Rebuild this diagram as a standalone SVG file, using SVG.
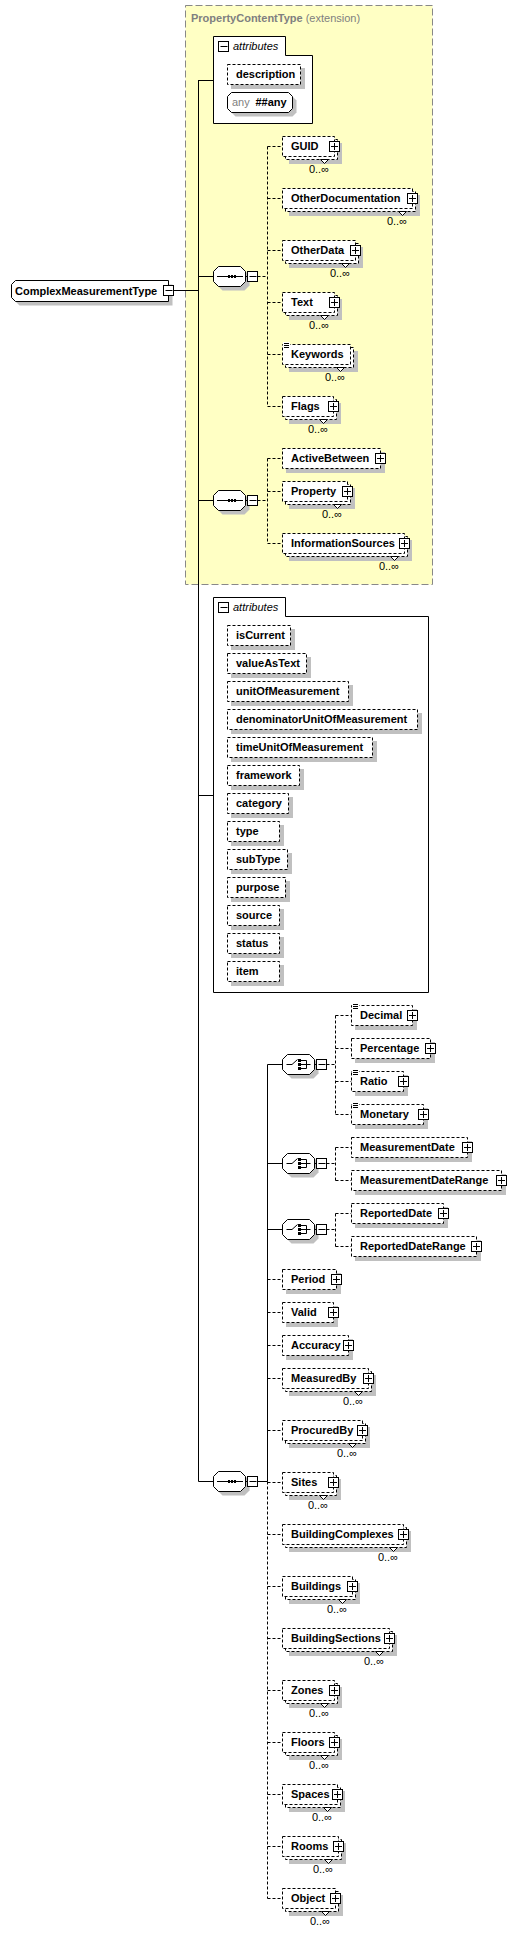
<svg xmlns="http://www.w3.org/2000/svg" width="529" height="1933" viewBox="0 0 529 1933">
<style>
.lbl{font-family:"Liberation Sans",Arial,sans-serif;font-size:11px;font-weight:bold;fill:#000}
.occ{font-family:"Liberation Sans",Arial,sans-serif;font-size:11px;fill:#000}
.att{font-family:"Liberation Sans",Arial,sans-serif;font-size:11px;font-style:italic;fill:#000}
.ttl{font-family:"Liberation Sans",Arial,sans-serif;font-size:11px;fill:#808080}
.sh{fill:#c0c0c0}
.db{fill:#fff;stroke:#000;stroke-dasharray:3,2}
.sb{fill:#fff;stroke:#000}
.ic{fill:#fff;stroke:#000}
.ln{fill:none;stroke:#000}
.dl{fill:none;stroke:#000;stroke-dasharray:3,2}
.nt{fill:#fff;stroke:#000}
.eqb{fill:#fff}
</style>
<defs>
<polygon id="oct" points="5.5,-9.5 27.5,-9.5 32.5,-4.5 32.5,5.5 27.5,10.5 5.5,10.5 0.5,5.5 0.5,-4.5"/>
<g id="eq"><rect class="eqb" x="1" y="-12" width="7" height="7"/><path class="ln" d="M2 -10.5H7M2 -8.5H7M2 -6.5H7"/></g>
<g id="seqglyph"><use href="#oct" class="sh" transform="translate(4,4)"/><use href="#oct" class="sb"/><path class="ln" d="M4 .5H30M32.5 .5H34.5"/><rect x="15" y="-1" width="2" height="3"/><rect x="18" y="-1" width="2" height="3"/><rect x="21" y="-1" width="2" height="3"/><rect class="ic" x="34.5" y="-4.5" width="10" height="10"/><path class="ln" d="M36.5 .5H43.5"/></g>
<g id="choiceglyph"><use href="#oct" class="sh" transform="translate(4,4)"/><use href="#oct" class="sb"/><path class="ln" d="M4.5 .5H10L15.5 -4.5M19 -3.5H24.5V4.5H19M19 .5H28.5M32.5 .5H34.5"/><rect x="16" y="-5" width="3" height="3"/><rect x="16" y="-1" width="3" height="3"/><rect x="16" y="3" width="3" height="3"/><rect class="ic" x="34.5" y="-4.5" width="10" height="10"/><path class="ln" d="M36.5 .5H43.5"/></g>
</defs>

<rect id="extension" x="185.5" y="5.5" width="247" height="579" fill="#ffffc4" stroke="#888" stroke-dasharray="7,3"/>
<text class="ttl" x="191" y="22"><tspan font-weight="bold">PropertyContentType</tspan> (extension)</text>

<g id="connectors">
<path class="ln" d="M198.5 80V1481.5M198.5 80.5H213.5M173.5 290.5H198.5M198.5 276.5H213.5M198.5 500.5H213.5M198.5 795.5H213.5M198.5 1481.5H213.5"/>
<path class="dl" d="M257.5 276.5H267.5M267.5 146.5V406.5M267.5 146.5H282.5M267.5 198.5H282.5M267.5 250.5H282.5M267.5 302.5H282.5M267.5 354.5H282.5M267.5 406.5H282.5"/>
<path class="dl" d="M257.5 500.5H267.5M267.5 458.5V543.5M267.5 458.5H282.5M267.5 491.5H282.5M267.5 543.5H282.5"/>
<path class="ln" d="M257.5 1481.5H267.5M267.5 1064.5V1481.5M267.5 1064.5H282.5M267.5 1163.5H282.5M267.5 1229.5H282.5"/>
<path class="dl" d="M267.5 1481.5V1898.5M267.5 1279.5H282.5M267.5 1312.5H282.5M267.5 1345.5H282.5M267.5 1378.5H282.5M267.5 1430.5H282.5M267.5 1482.5H282.5M267.5 1534.5H282.5M267.5 1586.5H282.5M267.5 1638.5H282.5M267.5 1690.5H282.5M267.5 1742.5H282.5M267.5 1794.5H282.5M267.5 1846.5H282.5M267.5 1898.5H282.5"/>
<path class="dl" d="M326.5 1064.5H335.5M335.5 1015.5V1114.5M335.5 1015.5H351.5M335.5 1048.5H351.5M335.5 1081.5H351.5M335.5 1114.5H351.5"/>
<path class="dl" d="M326.5 1163.5H335.5M335.5 1147.5V1180.5M335.5 1147.5H351.5M335.5 1180.5H351.5"/>
<path class="dl" d="M326.5 1229.5H335.5M335.5 1213.5V1246.5M335.5 1213.5H351.5M335.5 1246.5H351.5"/>
</g>

<g id="ComplexMeasurementType">
<polygon class="sh" points="19.5,284.5 172.5,284.5 172.5,305.5 19.5,305.5 15.5,301.5 15.5,288.5"/>
<polygon class="sb" points="15.5,280.5 168.5,280.5 168.5,301.5 15.5,301.5 11.5,297.5 11.5,284.5"/>
<text class="lbl" x="15" y="295">ComplexMeasurementType</text>
<rect class="ic" x="163.5" y="285.5" width="10" height="10"/>
<path class="ln" d="M165.5 290.5H172.5"/>
</g>

<g id="attributes1">
<polygon class="sb" points="213.5,36.5 285.5,36.5 285.5,55.5 312.5,55.5 312.5,123.5 213.5,123.5"/>
<rect class="ic" x="218.5" y="41.5" width="10" height="10"/>
<path class="ln" d="M220.5 46.5H227.5"/>
<text class="att" x="233" y="50">attributes</text>
</g>
<g id="description" transform="translate(227,74)"><rect class="sh" x="4" y="-6" width="74" height="21"/><rect class="db" x=".5" y="-9.5" width="73" height="20"/><text class="lbl" x="9" y="4">description</text></g>
<g id="anyAttribute">
<polygon class="sh" points="235.5,96.5 292.5,96.5 296.5,100.5 296.5,112.5 292.5,116.5 235.5,116.5 231.5,112.5 231.5,100.5"/>
<polygon class="sb" points="231.5,92.5 288.5,92.5 292.5,96.5 292.5,108.5 288.5,112.5 231.5,112.5 227.5,108.5 227.5,96.5"/>
<text class="occ" x="232" y="106" fill="#808080" style="fill:#808080">any</text>
<text class="lbl" x="255.5" y="106">##any</text>
</g>

<g id="sequence1" transform="translate(213,276)"><use href="#seqglyph"/></g>
<g id="sequence2" transform="translate(213,500)"><use href="#seqglyph"/></g>
<g id="sequence3" transform="translate(213,1481)"><use href="#seqglyph"/></g>
<g id="choice1" transform="translate(282,1064)"><use href="#choiceglyph"/></g>
<g id="choice2" transform="translate(282,1163)"><use href="#choiceglyph"/></g>
<g id="choice3" transform="translate(282,1229)"><use href="#choiceglyph"/></g>

<g id="GUID" transform="translate(282,146)"><rect class="sh" x="7" y="-3" width="53" height="21"/><rect class="db" x="3.5" y="-6.5" width="52" height="20"/><rect class="db" x=".5" y="-9.5" width="52" height="20"/><polygon class="nt" points="38.5,13.5 42.5,17.5 46.5,13.5"/><text class="lbl" x="9" y="4">GUID</text><rect class="ic" x="47.5" y="-4.5" width="10" height="10"/><path class="ln" d="M49 .5H56M52.5 -3V4"/><text class="occ" x="47" y="27" text-anchor="end">0..∞</text></g>
<g id="OtherDocumentation" transform="translate(282,198)"><rect class="sh" x="7" y="-3" width="131" height="21"/><rect class="db" x="3.5" y="-6.5" width="130" height="20"/><rect class="db" x=".5" y="-9.5" width="130" height="20"/><polygon class="nt" points="116.5,13.5 120.5,17.5 124.5,13.5"/><text class="lbl" x="9" y="4">OtherDocumentation</text><rect class="ic" x="125.5" y="-4.5" width="10" height="10"/><path class="ln" d="M127 .5H134M130.5 -3V4"/><text class="occ" x="125" y="27" text-anchor="end">0..∞</text></g>
<g id="OtherData" transform="translate(282,250)"><rect class="sh" x="7" y="-3" width="74" height="21"/><rect class="db" x="3.5" y="-6.5" width="73" height="20"/><rect class="db" x=".5" y="-9.5" width="73" height="20"/><polygon class="nt" points="59.5,13.5 63.5,17.5 67.5,13.5"/><text class="lbl" x="9" y="4">OtherData</text><rect class="ic" x="68.5" y="-4.5" width="10" height="10"/><path class="ln" d="M70 .5H77M73.5 -3V4"/><text class="occ" x="68" y="27" text-anchor="end">0..∞</text></g>
<g id="Text" transform="translate(282,302)"><rect class="sh" x="7" y="-3" width="53" height="21"/><rect class="db" x="3.5" y="-6.5" width="52" height="20"/><rect class="db" x=".5" y="-9.5" width="52" height="20"/><polygon class="nt" points="38.5,13.5 42.5,17.5 46.5,13.5"/><text class="lbl" x="9" y="4">Text</text><rect class="ic" x="47.5" y="-4.5" width="10" height="10"/><path class="ln" d="M49 .5H56M52.5 -3V4"/><text class="occ" x="47" y="27" text-anchor="end">0..∞</text></g>
<g id="Keywords" transform="translate(282,354)"><rect class="sh" x="7" y="-3" width="69" height="21"/><rect class="db" x="3.5" y="-6.5" width="68" height="20"/><rect class="db" x=".5" y="-9.5" width="68" height="20"/><polygon class="nt" points="54.5,13.5 58.5,17.5 62.5,13.5"/><use href="#eq"/><text class="lbl" x="9" y="4">Keywords</text><text class="occ" x="63" y="27" text-anchor="end">0..∞</text></g>
<g id="Flags" transform="translate(282,406)"><rect class="sh" x="7" y="-3" width="52" height="21"/><rect class="db" x="3.5" y="-6.5" width="51" height="20"/><rect class="db" x=".5" y="-9.5" width="51" height="20"/><polygon class="nt" points="37.5,13.5 41.5,17.5 45.5,13.5"/><text class="lbl" x="9" y="4">Flags</text><rect class="ic" x="46.5" y="-4.5" width="10" height="10"/><path class="ln" d="M48 .5H55M51.5 -3V4"/><text class="occ" x="46" y="27" text-anchor="end">0..∞</text></g>
<g id="ActiveBetween" transform="translate(282,458)"><rect class="sh" x="4" y="-6" width="99" height="21"/><rect class="db" x=".5" y="-9.5" width="98" height="20"/><text class="lbl" x="9" y="4">ActiveBetween</text><rect class="ic" x="93.5" y="-4.5" width="10" height="10"/><path class="ln" d="M95 .5H102M98.5 -3V4"/></g>
<g id="Property" transform="translate(282,491)"><rect class="sh" x="7" y="-3" width="66" height="21"/><rect class="db" x="3.5" y="-6.5" width="65" height="20"/><rect class="db" x=".5" y="-9.5" width="65" height="20"/><polygon class="nt" points="51.5,13.5 55.5,17.5 59.5,13.5"/><text class="lbl" x="9" y="4">Property</text><rect class="ic" x="60.5" y="-4.5" width="10" height="10"/><path class="ln" d="M62 .5H69M65.5 -3V4"/><text class="occ" x="60" y="27" text-anchor="end">0..∞</text></g>
<g id="InformationSources" transform="translate(282,543)"><rect class="sh" x="7" y="-3" width="123" height="21"/><rect class="db" x="3.5" y="-6.5" width="122" height="20"/><rect class="db" x=".5" y="-9.5" width="122" height="20"/><polygon class="nt" points="108.5,13.5 112.5,17.5 116.5,13.5"/><text class="lbl" x="9" y="4">InformationSources</text><rect class="ic" x="117.5" y="-4.5" width="10" height="10"/><path class="ln" d="M119 .5H126M122.5 -3V4"/><text class="occ" x="117" y="27" text-anchor="end">0..∞</text></g>

<g id="attributes2">
<polygon class="sb" points="213.5,597.5 285.5,597.5 285.5,616.5 428.5,616.5 428.5,992.5 213.5,992.5"/>
<rect class="ic" x="218.5" y="602.5" width="10" height="10"/>
<path class="ln" d="M220.5 607.5H227.5"/>
<text class="att" x="233" y="611">attributes</text>
</g>
<g id="isCurrent" transform="translate(227,635)"><rect class="sh" x="4" y="-6" width="64" height="21"/><rect class="db" x=".5" y="-9.5" width="63" height="20"/><text class="lbl" x="9" y="4">isCurrent</text></g>
<g id="valueAsText" transform="translate(227,663)"><rect class="sh" x="4" y="-6" width="80" height="21"/><rect class="db" x=".5" y="-9.5" width="79" height="20"/><text class="lbl" x="9" y="4">valueAsText</text></g>
<g id="unitOfMeasurement" transform="translate(227,691)"><rect class="sh" x="4" y="-6" width="122" height="21"/><rect class="db" x=".5" y="-9.5" width="121" height="20"/><text class="lbl" x="9" y="4">unitOfMeasurement</text></g>
<g id="denominatorUnitOfMeasurement" transform="translate(227,719)"><rect class="sh" x="4" y="-6" width="191" height="21"/><rect class="db" x=".5" y="-9.5" width="190" height="20"/><text class="lbl" x="9" y="4">denominatorUnitOfMeasurement</text></g>
<g id="timeUnitOfMeasurement" transform="translate(227,747)"><rect class="sh" x="4" y="-6" width="146" height="21"/><rect class="db" x=".5" y="-9.5" width="145" height="20"/><text class="lbl" x="9" y="4">timeUnitOfMeasurement</text></g>
<g id="framework" transform="translate(227,775)"><rect class="sh" x="4" y="-6" width="73" height="21"/><rect class="db" x=".5" y="-9.5" width="72" height="20"/><text class="lbl" x="9" y="4">framework</text></g>
<g id="category" transform="translate(227,803)"><rect class="sh" x="4" y="-6" width="62" height="21"/><rect class="db" x=".5" y="-9.5" width="61" height="20"/><text class="lbl" x="9" y="4">category</text></g>
<g id="type" transform="translate(227,831)"><rect class="sh" x="4" y="-6" width="53" height="21"/><rect class="db" x=".5" y="-9.5" width="52" height="20"/><text class="lbl" x="9" y="4">type</text></g>
<g id="subType" transform="translate(227,859)"><rect class="sh" x="4" y="-6" width="61" height="21"/><rect class="db" x=".5" y="-9.5" width="60" height="20"/><text class="lbl" x="9" y="4">subType</text></g>
<g id="purpose" transform="translate(227,887)"><rect class="sh" x="4" y="-6" width="59" height="21"/><rect class="db" x=".5" y="-9.5" width="58" height="20"/><text class="lbl" x="9" y="4">purpose</text></g>
<g id="source" transform="translate(227,915)"><rect class="sh" x="4" y="-6" width="53" height="21"/><rect class="db" x=".5" y="-9.5" width="52" height="20"/><text class="lbl" x="9" y="4">source</text></g>
<g id="status" transform="translate(227,943)"><rect class="sh" x="4" y="-6" width="53" height="21"/><rect class="db" x=".5" y="-9.5" width="52" height="20"/><text class="lbl" x="9" y="4">status</text></g>
<g id="item" transform="translate(227,971)"><rect class="sh" x="4" y="-6" width="53" height="21"/><rect class="db" x=".5" y="-9.5" width="52" height="20"/><text class="lbl" x="9" y="4">item</text></g>

<g id="Decimal" transform="translate(351,1015)"><rect class="sh" x="4" y="-6" width="62" height="21"/><rect class="db" x=".5" y="-9.5" width="61" height="20"/><use href="#eq"/><text class="lbl" x="9" y="4">Decimal</text><rect class="ic" x="56.5" y="-4.5" width="10" height="10"/><path class="ln" d="M58 .5H65M61.5 -3V4"/></g>
<g id="Percentage" transform="translate(351,1048)"><rect class="sh" x="4" y="-6" width="80" height="21"/><rect class="db" x=".5" y="-9.5" width="79" height="20"/><text class="lbl" x="9" y="4">Percentage</text><rect class="ic" x="74.5" y="-4.5" width="10" height="10"/><path class="ln" d="M76 .5H83M79.5 -3V4"/></g>
<g id="Ratio" transform="translate(351,1081)"><rect class="sh" x="4" y="-6" width="53" height="21"/><rect class="db" x=".5" y="-9.5" width="52" height="20"/><use href="#eq"/><text class="lbl" x="9" y="4">Ratio</text><rect class="ic" x="47.5" y="-4.5" width="10" height="10"/><path class="ln" d="M49 .5H56M52.5 -3V4"/></g>
<g id="Monetary" transform="translate(351,1114)"><rect class="sh" x="4" y="-6" width="73" height="21"/><rect class="db" x=".5" y="-9.5" width="72" height="20"/><use href="#eq"/><text class="lbl" x="9" y="4">Monetary</text><rect class="ic" x="67.5" y="-4.5" width="10" height="10"/><path class="ln" d="M69 .5H76M72.5 -3V4"/></g>
<g id="MeasurementDate" transform="translate(351,1147)"><rect class="sh" x="4" y="-6" width="117" height="21"/><rect class="db" x=".5" y="-9.5" width="116" height="20"/><text class="lbl" x="9" y="4">MeasurementDate</text><rect class="ic" x="111.5" y="-4.5" width="10" height="10"/><path class="ln" d="M113 .5H120M116.5 -3V4"/></g>
<g id="MeasurementDateRange" transform="translate(351,1180)"><rect class="sh" x="4" y="-6" width="151" height="21"/><rect class="db" x=".5" y="-9.5" width="150" height="20"/><text class="lbl" x="9" y="4">MeasurementDateRange</text><rect class="ic" x="145.5" y="-4.5" width="10" height="10"/><path class="ln" d="M147 .5H154M150.5 -3V4"/></g>
<g id="ReportedDate" transform="translate(351,1213)"><rect class="sh" x="4" y="-6" width="93" height="21"/><rect class="db" x=".5" y="-9.5" width="92" height="20"/><text class="lbl" x="9" y="4">ReportedDate</text><rect class="ic" x="87.5" y="-4.5" width="10" height="10"/><path class="ln" d="M89 .5H96M92.5 -3V4"/></g>
<g id="ReportedDateRange" transform="translate(351,1246)"><rect class="sh" x="4" y="-6" width="126" height="21"/><rect class="db" x=".5" y="-9.5" width="125" height="20"/><text class="lbl" x="9" y="4">ReportedDateRange</text><rect class="ic" x="120.5" y="-4.5" width="10" height="10"/><path class="ln" d="M122 .5H129M125.5 -3V4"/></g>

<g id="Period" transform="translate(282,1279)"><rect class="sh" x="4" y="-6" width="55" height="21"/><rect class="db" x=".5" y="-9.5" width="54" height="20"/><text class="lbl" x="9" y="4">Period</text><rect class="ic" x="49.5" y="-4.5" width="10" height="10"/><path class="ln" d="M51 .5H58M54.5 -3V4"/></g>
<g id="Valid" transform="translate(282,1312)"><rect class="sh" x="4" y="-6" width="52" height="21"/><rect class="db" x=".5" y="-9.5" width="51" height="20"/><text class="lbl" x="9" y="4">Valid</text><rect class="ic" x="46.5" y="-4.5" width="10" height="10"/><path class="ln" d="M48 .5H55M51.5 -3V4"/></g>
<g id="Accuracy" transform="translate(282,1345)"><rect class="sh" x="4" y="-6" width="67" height="21"/><rect class="db" x=".5" y="-9.5" width="66" height="20"/><text class="lbl" x="9" y="4">Accuracy</text><rect class="ic" x="61.5" y="-4.5" width="10" height="10"/><path class="ln" d="M63 .5H70M66.5 -3V4"/></g>
<g id="MeasuredBy" transform="translate(282,1378)"><rect class="sh" x="7" y="-3" width="87" height="21"/><rect class="db" x="3.5" y="-6.5" width="86" height="20"/><rect class="db" x=".5" y="-9.5" width="86" height="20"/><polygon class="nt" points="72.5,13.5 76.5,17.5 80.5,13.5"/><text class="lbl" x="9" y="4">MeasuredBy</text><rect class="ic" x="81.5" y="-4.5" width="10" height="10"/><path class="ln" d="M83 .5H90M86.5 -3V4"/><text class="occ" x="81" y="27" text-anchor="end">0..∞</text></g>
<g id="ProcuredBy" transform="translate(282,1430)"><rect class="sh" x="7" y="-3" width="81" height="21"/><rect class="db" x="3.5" y="-6.5" width="80" height="20"/><rect class="db" x=".5" y="-9.5" width="80" height="20"/><polygon class="nt" points="66.5,13.5 70.5,17.5 74.5,13.5"/><text class="lbl" x="9" y="4">ProcuredBy</text><rect class="ic" x="75.5" y="-4.5" width="10" height="10"/><path class="ln" d="M77 .5H84M80.5 -3V4"/><text class="occ" x="75" y="27" text-anchor="end">0..∞</text></g>
<g id="Sites" transform="translate(282,1482)"><rect class="sh" x="7" y="-3" width="52" height="21"/><rect class="db" x="3.5" y="-6.5" width="51" height="20"/><rect class="db" x=".5" y="-9.5" width="51" height="20"/><polygon class="nt" points="37.5,13.5 41.5,17.5 45.5,13.5"/><text class="lbl" x="9" y="4">Sites</text><rect class="ic" x="46.5" y="-4.5" width="10" height="10"/><path class="ln" d="M48 .5H55M51.5 -3V4"/><text class="occ" x="46" y="27" text-anchor="end">0..∞</text></g>
<g id="BuildingComplexes" transform="translate(282,1534)"><rect class="sh" x="7" y="-3" width="122" height="21"/><rect class="db" x="3.5" y="-6.5" width="121" height="20"/><rect class="db" x=".5" y="-9.5" width="121" height="20"/><polygon class="nt" points="107.5,13.5 111.5,17.5 115.5,13.5"/><text class="lbl" x="9" y="4">BuildingComplexes</text><rect class="ic" x="116.5" y="-4.5" width="10" height="10"/><path class="ln" d="M118 .5H125M121.5 -3V4"/><text class="occ" x="116" y="27" text-anchor="end">0..∞</text></g>
<g id="Buildings" transform="translate(282,1586)"><rect class="sh" x="7" y="-3" width="71" height="21"/><rect class="db" x="3.5" y="-6.5" width="70" height="20"/><rect class="db" x=".5" y="-9.5" width="70" height="20"/><polygon class="nt" points="56.5,13.5 60.5,17.5 64.5,13.5"/><text class="lbl" x="9" y="4">Buildings</text><rect class="ic" x="65.5" y="-4.5" width="10" height="10"/><path class="ln" d="M67 .5H74M70.5 -3V4"/><text class="occ" x="65" y="27" text-anchor="end">0..∞</text></g>
<g id="BuildingSections" transform="translate(282,1638)"><rect class="sh" x="7" y="-3" width="108" height="21"/><rect class="db" x="3.5" y="-6.5" width="107" height="20"/><rect class="db" x=".5" y="-9.5" width="107" height="20"/><polygon class="nt" points="93.5,13.5 97.5,17.5 101.5,13.5"/><text class="lbl" x="9" y="4">BuildingSections</text><rect class="ic" x="102.5" y="-4.5" width="10" height="10"/><path class="ln" d="M104 .5H111M107.5 -3V4"/><text class="occ" x="102" y="27" text-anchor="end">0..∞</text></g>
<g id="Zones" transform="translate(282,1690)"><rect class="sh" x="7" y="-3" width="53" height="21"/><rect class="db" x="3.5" y="-6.5" width="52" height="20"/><rect class="db" x=".5" y="-9.5" width="52" height="20"/><polygon class="nt" points="38.5,13.5 42.5,17.5 46.5,13.5"/><text class="lbl" x="9" y="4">Zones</text><rect class="ic" x="47.5" y="-4.5" width="10" height="10"/><path class="ln" d="M49 .5H56M52.5 -3V4"/><text class="occ" x="47" y="27" text-anchor="end">0..∞</text></g>
<g id="Floors" transform="translate(282,1742)"><rect class="sh" x="7" y="-3" width="53" height="21"/><rect class="db" x="3.5" y="-6.5" width="52" height="20"/><rect class="db" x=".5" y="-9.5" width="52" height="20"/><polygon class="nt" points="38.5,13.5 42.5,17.5 46.5,13.5"/><text class="lbl" x="9" y="4">Floors</text><rect class="ic" x="47.5" y="-4.5" width="10" height="10"/><path class="ln" d="M49 .5H56M52.5 -3V4"/><text class="occ" x="47" y="27" text-anchor="end">0..∞</text></g>
<g id="Spaces" transform="translate(282,1794)"><rect class="sh" x="7" y="-3" width="56" height="21"/><rect class="db" x="3.5" y="-6.5" width="55" height="20"/><rect class="db" x=".5" y="-9.5" width="55" height="20"/><polygon class="nt" points="41.5,13.5 45.5,17.5 49.5,13.5"/><text class="lbl" x="9" y="4">Spaces</text><rect class="ic" x="50.5" y="-4.5" width="10" height="10"/><path class="ln" d="M52 .5H59M55.5 -3V4"/><text class="occ" x="50" y="27" text-anchor="end">0..∞</text></g>
<g id="Rooms" transform="translate(282,1846)"><rect class="sh" x="7" y="-3" width="57" height="21"/><rect class="db" x="3.5" y="-6.5" width="56" height="20"/><rect class="db" x=".5" y="-9.5" width="56" height="20"/><polygon class="nt" points="42.5,13.5 46.5,17.5 50.5,13.5"/><text class="lbl" x="9" y="4">Rooms</text><rect class="ic" x="51.5" y="-4.5" width="10" height="10"/><path class="ln" d="M53 .5H60M56.5 -3V4"/><text class="occ" x="51" y="27" text-anchor="end">0..∞</text></g>
<g id="Object" transform="translate(282,1898)"><rect class="sh" x="7" y="-3" width="54" height="21"/><rect class="db" x="3.5" y="-6.5" width="53" height="20"/><rect class="db" x=".5" y="-9.5" width="53" height="20"/><polygon class="nt" points="39.5,13.5 43.5,17.5 47.5,13.5"/><text class="lbl" x="9" y="4">Object</text><rect class="ic" x="48.5" y="-4.5" width="10" height="10"/><path class="ln" d="M50 .5H57M53.5 -3V4"/><text class="occ" x="48" y="27" text-anchor="end">0..∞</text></g>
</svg>
